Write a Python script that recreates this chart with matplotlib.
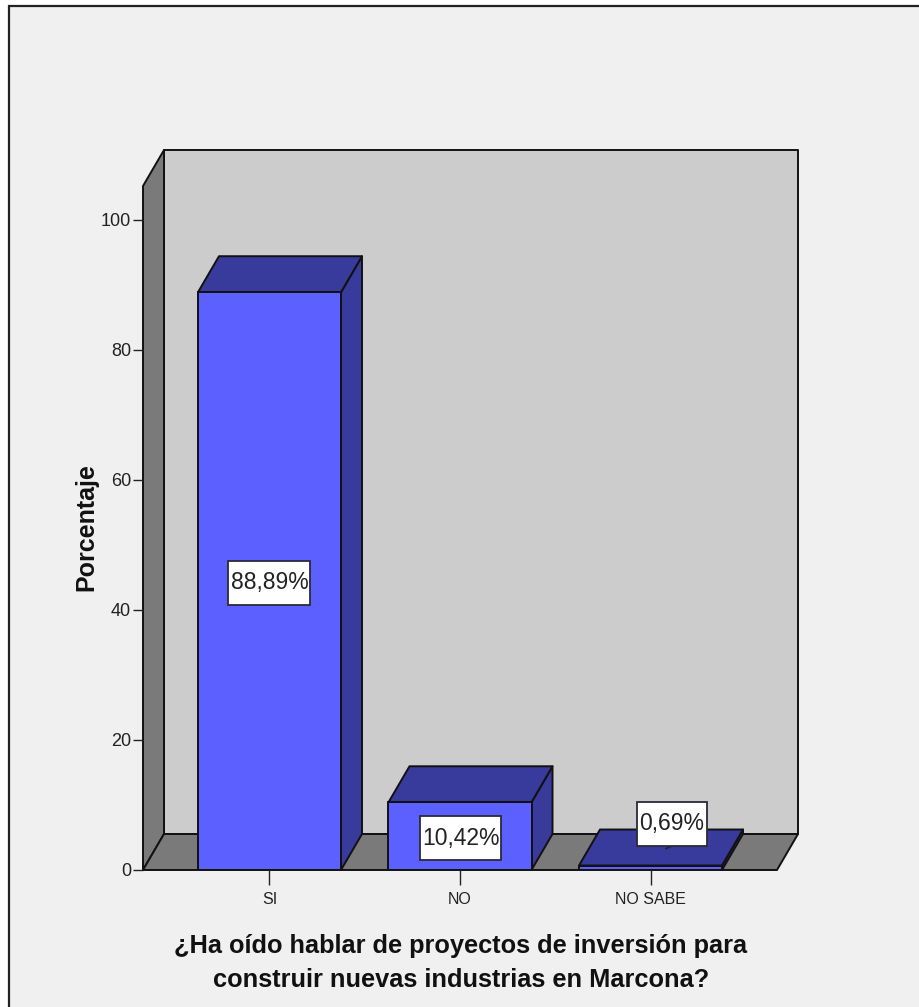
import matplotlib
matplotlib.use('Agg')
import matplotlib.pyplot as plt
from matplotlib.patches import Polygon, Rectangle

categories = ['SI', 'NO', 'NO SABE']
percent = [88.89, 10.42, 0.69]
percent_labels = ['88,89%', '10,42%', '0,69%']
y_ticks = [0, 20, 40, 60, 80, 100]
x_title = '¿Ha oído hablar de proyectos de inversión para\nconstruir nuevas industrias en Marcona?'
y_title = 'Porcentaje'

W, H = 919, 1007
BLUE = '#5B60FF'
DARK = '#383A9C'
LINE = '#111111'
FONT = 'Liberation Sans'

fig = plt.figure(figsize=(W / 100, H / 100), dpi=100, facecolor='white')

# grey panel and its black frame, in pixels
bg = fig.add_axes([0, 0, 1, 1])
bg.set_xlim(0, W)
bg.set_ylim(H, 0)
bg.axis('off')
bg.add_patch(Rectangle((9, 6), W + 20, H + 20, fc='#F0F0F0', ec='#222222', lw=1.6))

ax = fig.add_axes([143 / W, 1 - 870 / H, 634 / W, 684 / H])
ax.set_xlim(-0.664, 2.664)
ax.set_ylim(0, 684 / 6.5)
ax.patch.set_alpha(0)

# one pixel in data units
px = 1 / 190.5
py = 1 / 6.5

# depth of the 3d box
dx = 21 * px
dy = 36 * py
x0, x1 = ax.get_xlim()
top = ax.get_ylim()[1]


def poly(pts, color, z=1):
    ax.add_patch(Polygon(pts, closed=True, fc=color, ec=LINE, lw=1.4, zorder=z,
                         clip_on=False, joinstyle='round'))


poly([(x0 + dx, dy), (x1 + dx, dy), (x1 + dx, top + dy), (x0 + dx, top + dy)], '#CCCCCC')
poly([(x0, 0), (x0 + dx, dy), (x0 + dx, top + dy), (x0, top)], '#7A7A7A')
poly([(x0, 0), (x1, 0), (x1 + dx, dy), (x0 + dx, dy)], '#7A7A7A')

bar_w = 143 * px
for i, v in enumerate(percent):
    l, r = i - bar_w / 2, i + bar_w / 2
    poly([(r, 0), (r + dx, dy), (r + dx, v + dy), (r, v)], DARK, 2)
    poly([(l, v), (r, v), (r + dx, v + dy), (l + dx, v + dy)], DARK, 2)
    ax.bar(i, v, width=bar_w, color=BLUE, edgecolor=LINE, linewidth=1.4, zorder=3)

# value labels, the last one sits above its thin bar
label_x = [0.0, 1.003, 2.113]
label_y = [44.2, 4.9, 7.15]
label_w = [82, 81, 70]
for i, s in enumerate(percent_labels):
    bw, bh = label_w[i] * px, 44 * py
    ax.add_patch(Rectangle((label_x[i] - bw / 2, label_y[i] - bh / 2), bw, bh, fc='white',
                           ec='#2A2A3A', lw=1.3, zorder=5))
    ax.text(label_x[i], label_y[i], s, ha='center', va='center', fontsize=16.5,
            family=FONT, color='#222222', zorder=6)

# little leader from the last label down to its bar
ax.plot([2.113 - 6 * px, 2.113 + 5 * px], [3.3, 4.0], color='#222233', lw=1.2, zorder=4)

ax.set_xticks(range(len(categories)))
ax.set_xticklabels(categories, fontsize=11.5, family=FONT, color='#222222')
ax.set_yticks(y_ticks)
ax.set_yticklabels(y_ticks, fontsize=13, family=FONT, color='#222222')
ax.tick_params(axis='x', length=10.5, width=1, pad=5.5, color='#222222')
ax.tick_params(axis='y', length=7, width=1, pad=1.5, color='#222222')
for s in ax.spines.values():
    s.set_visible(False)

bg.text(461, 963, x_title, ha='center', va='center', fontsize=18.3, family=FONT,
        fontweight='bold', linespacing=1.55, color='#111111')
bg.text(86, 527, y_title, ha='center', va='center', rotation=90, fontsize=18,
        family=FONT, fontweight='bold', color='#111111')

fig.savefig('out.png', dpi=100, facecolor='white')
